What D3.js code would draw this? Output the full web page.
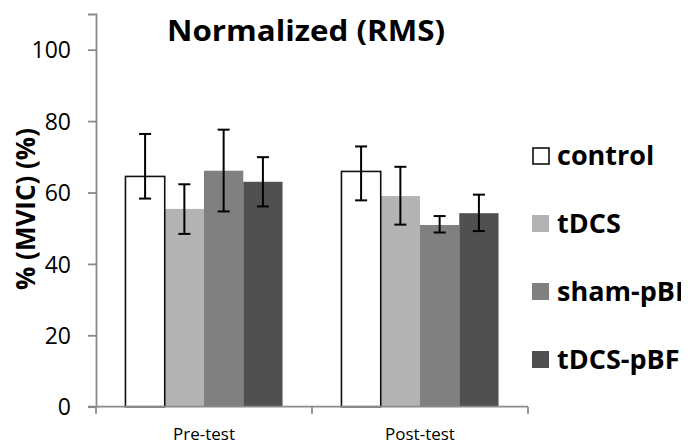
<!DOCTYPE html>
<html>
<head>
<meta charset="utf-8">
<script src="https://cdn.jsdelivr.net/npm/d3@7"></script>
<style>
  html, body { margin: 0; padding: 0; background: #fff; }
  svg { display: block; }
</style>
</head>
<body>
<svg id="chart" width="696" height="445"></svg>
<script>
// ---- data ----
const categories = ["Pre-test", "Post-test"];
const series = ["control", "tDCS", "sham-pBF", "tDCS-pBF"];
const means = {
  "control":  [64.5, 65.9],
  "tDCS":     [55.4, 59.0],
  "sham-pBF": [66.1, 50.9],
  "tDCS-pBF": [63.0, 54.2]
};
const errUpper = {
  "control":  [76.4, 72.9],
  "tDCS":     [62.3, 67.2],
  "sham-pBF": [77.6, 53.4],
  "tDCS-pBF": [69.9, 59.4]
};
const errLower = {
  "control":  [58.3, 57.8],
  "tDCS":     [48.4, 51.0],
  "sham-pBF": [54.7, 48.8],
  "tDCS-pBF": [56.1, 49.2]
};
const yTicks = [0, 20, 40, 60, 80, 100];
const title = "Normalized (RMS)";
const yTitle = "% (MVIC) (%)";

// ---- styling ----
const fills = { "control": "#ffffff", "tDCS": "#b3b3b3", "sham-pBF": "#808080", "tDCS-pBF": "#505050" };
const axisColor = "#8a8a8a";
const font = "'Open Sans', 'DejaVu Sans', sans-serif";

const svg = d3.select("#chart");
const plot = { left: 96, right: 528, top: 14, bottom: 406.7 };

const y = d3.scaleLinear().domain([0, 110]).range([plot.bottom, plot.top]);
const x0 = d3.scaleBand().domain(categories).range([plot.left, plot.right]).paddingInner(0).paddingOuter(0);
const x1 = d3.scaleBand().domain(series).range([0, x0.bandwidth()]).paddingInner(0).paddingOuter(0.75);

// bars
const rows = [];
categories.forEach((c, i) => series.forEach(s => rows.push({ c, s, v: means[s][i], hi: errUpper[s][i], lo: errLower[s][i] })));

svg.append("g").selectAll("rect")
  .data(rows.filter(d => d.s !== "control"))
  .join("rect")
  .attr("x", d => x0(d.c) + x1(d.s))
  .attr("y", d => y(d.v))
  .attr("width", x1.bandwidth())
  .attr("height", d => y(0) - y(d.v))
  .attr("fill", d => fills[d.s]);

svg.append("g").selectAll("rect")
  .data(rows.filter(d => d.s === "control"))
  .join("rect")
  .attr("x", d => x0(d.c) + x1(d.s))
  .attr("y", d => y(d.v))
  .attr("width", x1.bandwidth())
  .attr("height", d => y(0) - y(d.v))
  .attr("fill", "#fff")
  .attr("stroke", "#111")
  .attr("stroke-width", 1.6);

// y axis
const yAxis = svg.append("g")
  .attr("transform", `translate(${plot.left},0)`)
  .call(d3.axisLeft(y).tickValues(yTicks).tickSize(8).tickPadding(17).tickFormat(d3.format("d")));
yAxis.select(".domain").attr("stroke", axisColor).attr("stroke-width", 1.8);
yAxis.selectAll(".tick line").attr("stroke", axisColor).attr("stroke-width", 1.8);
yAxis.selectAll(".tick text")
  .attr("font-family", font).attr("font-size", 23).attr("fill", "#000")
  .attr("dy", "0.36em");

// x axis
const xa = svg.append("g");
xa.append("line")
  .attr("x1", plot.left - 8).attr("x2", plot.right)
  .attr("y1", y(0)).attr("y2", y(0))
  .attr("stroke", axisColor).attr("stroke-width", 1.8);
const bounds = categories.map(c => x0(c)).concat([x0(categories[categories.length - 1]) + x0.bandwidth()]);
xa.selectAll("line.tk").data(bounds).join("line")
  .attr("class", "tk")
  .attr("x1", d => d).attr("x2", d => d)
  .attr("y1", y(0)).attr("y2", y(0) + 7)
  .attr("stroke", axisColor).attr("stroke-width", 1.8);
xa.selectAll("text").data(categories).join("text")
  .attr("x", d => x0(d) + x0.bandwidth() / 2)
  .attr("y", 440)
  .attr("text-anchor", "middle")
  .attr("font-family", font).attr("font-size", 17).attr("fill", "#000")
  .text(d => d);

// error bars
const eb = svg.append("g").attr("stroke", "#000").attr("stroke-width", 2).attr("fill", "none");
rows.forEach(d => {
  const cx = x0(d.c) + x1(d.s) + x1.bandwidth() / 2;
  eb.append("line").attr("x1", cx).attr("x2", cx).attr("y1", y(d.hi)).attr("y2", y(d.lo));
  eb.append("line").attr("x1", cx - 6).attr("x2", cx + 6).attr("y1", y(d.hi)).attr("y2", y(d.hi));
  eb.append("line").attr("x1", cx - 6).attr("x2", cx + 6).attr("y1", y(d.lo)).attr("y2", y(d.lo));
});

// title
svg.append("text")
  .attr("x", 167).attr("y", 41)
  .attr("font-family", font).attr("font-weight", "bold").attr("font-size", 29)
  .attr("textLength", 278).attr("lengthAdjust", "spacingAndGlyphs")
  .attr("fill", "#000")
  .text(title);

// y title
svg.append("text")
  .attr("transform", "translate(35,209) rotate(-90)")
  .attr("text-anchor", "middle")
  .attr("font-family", font).attr("font-weight", "bold").attr("font-size", 26)
  .attr("fill", "#000")
  .text(yTitle);

// legend (clipped by its box like the original)
svg.append("defs").append("clipPath").attr("id", "legclip")
  .append("rect").attr("x", 520).attr("y", 120).attr("width", 161).attr("height", 280);
const leg = svg.append("g").attr("clip-path", "url(#legclip)");
series.forEach((s, i) => {
  const base = 165 + i * 68;
  leg.append("rect")
    .attr("x", s === "control" ? 533 : 532).attr("y", base - (s === "control" ? 17 : 18))
    .attr("width", s === "control" ? 16 : 17).attr("height", s === "control" ? 16 : 17)
    .attr("fill", fills[s])
    .attr("stroke", s === "control" ? "#000" : "none")
    .attr("stroke-width", 1.5);
  leg.append("text")
    .attr("x", 557).attr("y", base)
    .attr("font-family", font).attr("font-weight", "bold").attr("font-size", 27)
    .attr("fill", "#000")
    .text(s);
});
</script>
</body>
</html>
